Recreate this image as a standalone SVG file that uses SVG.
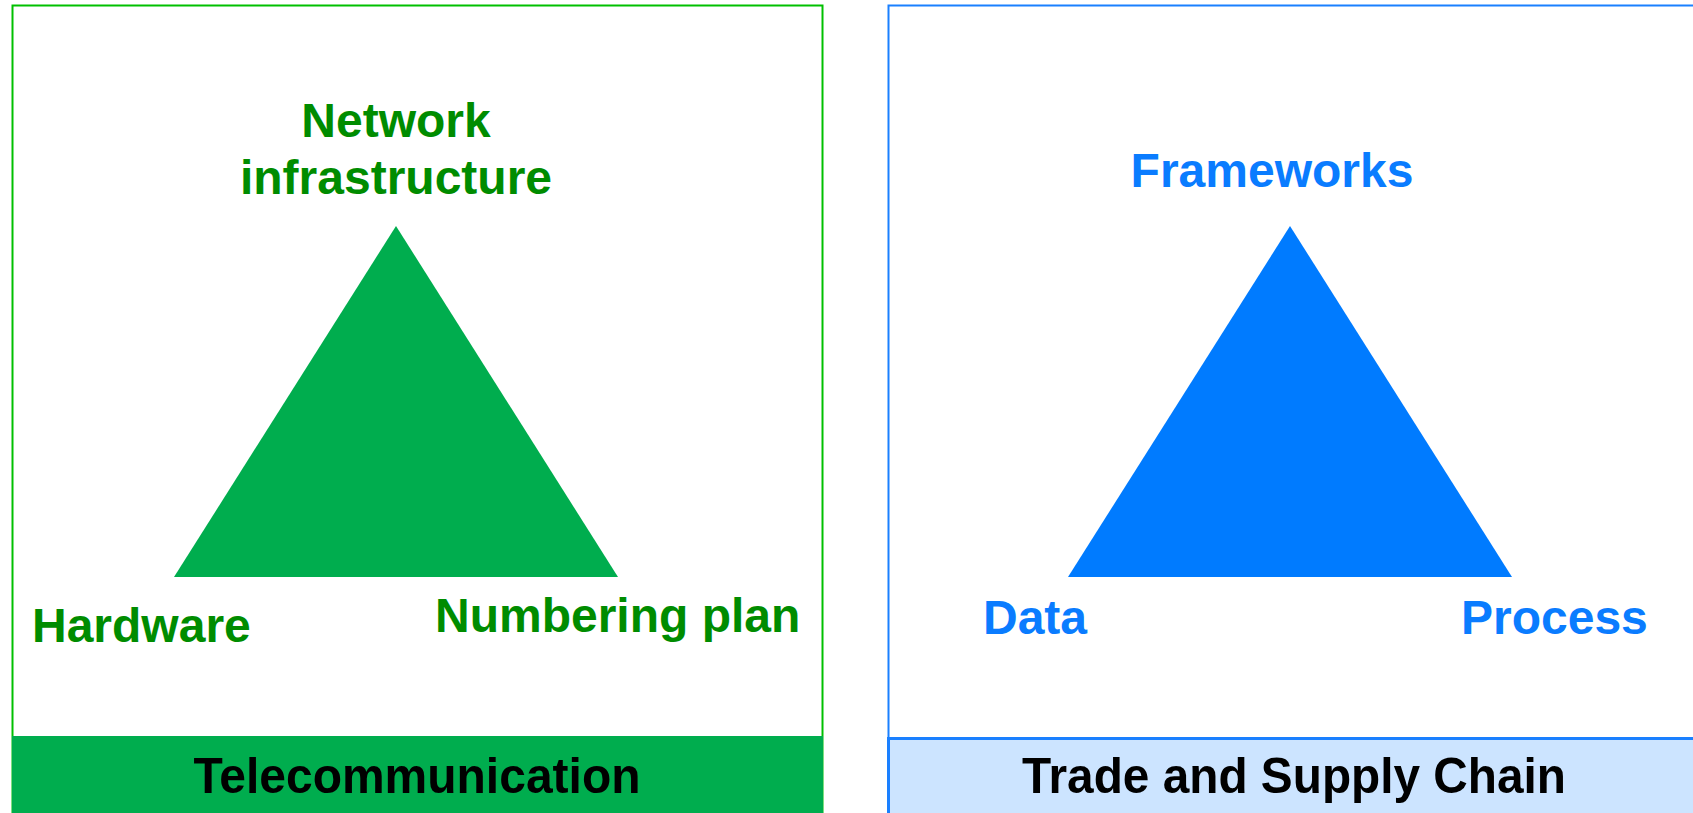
<svg xmlns="http://www.w3.org/2000/svg" width="1693" height="813" viewBox="0 0 1693 813">
<style>
.lbl{font-family:"Liberation Sans",Arial,sans-serif;font-weight:bold;font-size:48px}
.g{fill:#008c00}
.b{fill:#0a7cff}
.title{font-family:"Liberation Sans",Arial,sans-serif;font-weight:bold;font-size:50px;fill:#000}
</style>
<rect width="1693" height="813" fill="#fff"/>
<g id="telecom">
  <rect x="12.5" y="5.5" width="810" height="820" fill="#fff" stroke="#00c000" stroke-width="2"/>
  <rect x="12" y="736" width="811" height="80" fill="#00ad4e"/>
  <text class="title" x="417" y="793" text-anchor="middle" textLength="447" lengthAdjust="spacingAndGlyphs">Telecommunication</text>
  <polygon points="396,226 618,577 174,577" fill="#00ad4e"/>
  <text class="lbl g" x="396" y="137" text-anchor="middle">Network</text>
  <text class="lbl g" x="396" y="194" text-anchor="middle">infrastructure</text>
  <text class="lbl g" x="32" y="642">Hardware</text>
  <text class="lbl g" x="435" y="632">Numbering plan</text>
</g>
<g id="trade">
  <rect x="888.5" y="5.5" width="820" height="820" fill="#fff" stroke="#1a80ff" stroke-width="2"/>
  <rect x="888.5" y="738.5" width="820" height="80" fill="#cce4ff" stroke="#1a80ff" stroke-width="3"/>
  <text class="title" x="1294" y="793" text-anchor="middle" textLength="544" lengthAdjust="spacingAndGlyphs">Trade and Supply Chain</text>
  <polygon points="1290,226 1512,577 1068,577" fill="#007bff"/>
  <text class="lbl b" x="1272" y="187" text-anchor="middle">Frameworks</text>
  <text class="lbl b" x="983" y="634">Data</text>
  <text class="lbl b" x="1461" y="634">Process</text>
</g>
<g id="connectors"/>
</svg>
